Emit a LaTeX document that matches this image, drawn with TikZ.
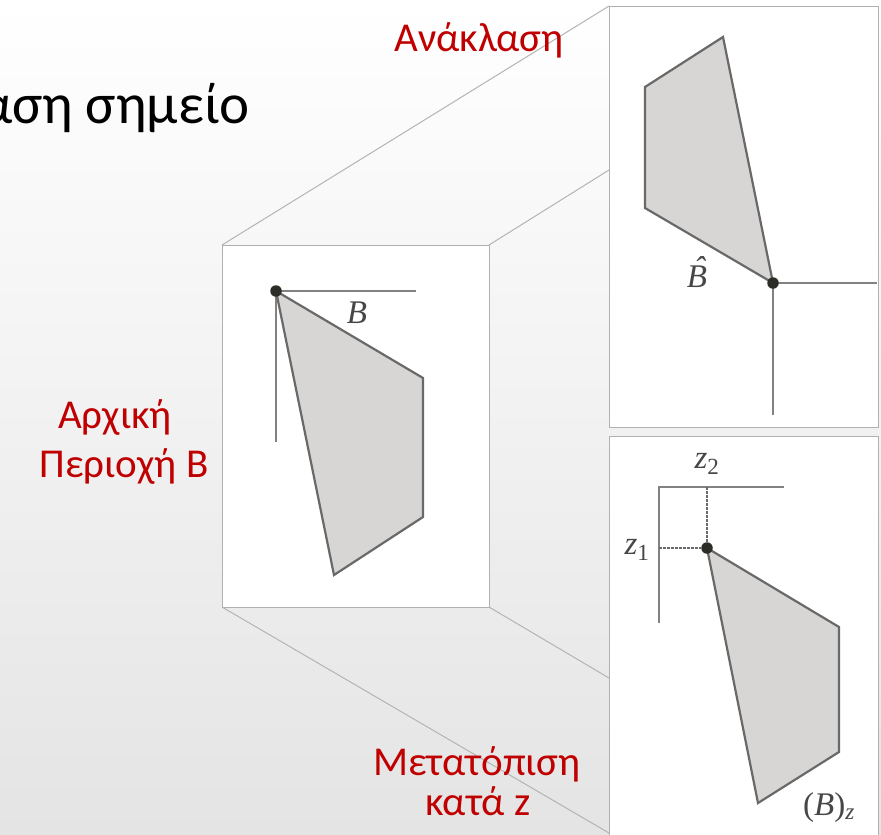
\documentclass[tikz,border=0pt]{standalone}
\usepackage{fontspec}
\setmainfont{Carlito}
\newfontfamily\mathserif{Liberation Serif}
\definecolor{slred}{RGB}{192,0,0}
\definecolor{bgbot}{RGB}{228,228,228}
\definecolor{boxedge}{RGB}{176,176,176}
\definecolor{linkline}{RGB}{180,180,180}
\definecolor{polyedge}{RGB}{105,105,105}
\definecolor{polyfill}{RGB}{216,214,212}
\definecolor{axisgray}{RGB}{130,130,130}
\definecolor{dotcol}{RGB}{45,45,40}
\tikzset{
  panel/.style={draw=boxedge, line width=1.4pt, fill=white},
  link/.style={draw=linkline, line width=1pt},
  region/.style={draw=polyedge, line width=2.2pt, fill=polyfill, line join=miter},
  axisline/.style={draw=axisgray, line width=2pt},
  guide/.style={draw=polyedge, line width=1.5pt, dash pattern=on 2.5pt off 1.5pt},
  origin/.style={circle, fill=dotcol, inner sep=0pt, minimum size=11.5pt},
  redlabel/.style={text=slred, font=\fontsize{41}{48}\selectfont, inner sep=0pt},
  mathlabel/.style={font=\mathserif\itshape\fontsize{33}{36}\selectfont, text=black!72, inner sep=0pt}
}
\begin{document}
\begin{tikzpicture}[x=1pt,y=-1pt]
\useasboundingbox (0,0) rectangle (881,835);
\clip (0,0) rectangle (881,835);
\shade[top color=white, bottom color=bgbot] (0,0) rectangle (881,835);

% title (cut off at the left edge, as in the reference)
\node[anchor=base east, inner sep=0pt, font=\fontsize{57}{66}\selectfont] (title) at (250,123) {Ανάκλαση σημείο};

% panels
\coordinate (mtl) at (222,245);
\coordinate (mtr) at (489,245);
\coordinate (mbl) at (222,607);
\coordinate (mbr) at (489,607);
\coordinate (ttl) at (609,6);
\coordinate (tlm) at (609,170);
\coordinate (blm) at (609,678);
\coordinate (bll) at (609,833);

\draw[link] (mtl) -- (ttl);
\draw[link] (mtr) -- (tlm);
\draw[link] (mbl) -- (bll);
\draw[link] (mbr) -- (blm);

\node[panel, anchor=north west, minimum width=267pt, minimum height=362pt, inner sep=0pt] (mid) at (222,245) {};
\node[panel, anchor=north west, minimum width=269pt, minimum height=421pt, inner sep=0pt] (top) at (609,6) {};
\node[panel, anchor=north west, minimum width=269pt, minimum height=420pt, inner sep=0pt] (bot) at (609,436) {};

% original region B
\draw[axisline] (276,291) -- (416,291);
\draw[axisline] (276,291) -- (276,442);
\draw[region] (276,291) -- (423,378) -- (423,517) -- (334,575) -- cycle;
\node[origin] (o1) at (276,291) {};
\node[mathlabel] (lb) at (357,313) {B};

% reflection
\draw[axisline] (773,283) -- (877,283);
\draw[axisline] (773,283) -- (773,415);
\draw[region] (773,283) -- (645,208) -- (645,87) -- (723,37) -- cycle;
\node[origin] (o2) at (773,283) {};
\node[mathlabel] (lbh) at (697,272) {\ooalign{\hfil\raisebox{0.24em}{\kern0.14em ˆ}\hfil\cr B}};

% translation
\draw[axisline] (659,623) -- (659,487) -- (784,487);
\coordinate (zx) at (707,487);
\coordinate (zy) at (659,548);
\draw[region] (707,548) -- (839,627) -- (839,752) -- (758,803) -- cycle;
\node[origin] (o3) at (707,548) {};
\draw[guide] (zx) -- (o3);
\draw[guide] (zy) -- (o3);
\node[mathlabel] (lz2) at (707,464) {z\textsubscript{\upshape 2}};
\node[mathlabel] (lz1) at (637,550) {z\textsubscript{\upshape 1}};
\node[mathlabel] (lbz) at (829,808) {{\upshape(}B{\upshape)}\textsubscript{z}};

% red labels
\node[redlabel, anchor=base] (ref) at (479,51) {Ανάκλαση};
\node[redlabel, anchor=base] (orig1) at (115,428) {Αρχική};
\node[redlabel, anchor=base] (orig2) at (124,477) {Περιοχή B};
\node[redlabel, anchor=base] (tr1) at (477,775) {Μετατόπιση};
\node[redlabel, anchor=base] (tr2) at (478,815) {κατά z};
\end{tikzpicture}
\end{document}
